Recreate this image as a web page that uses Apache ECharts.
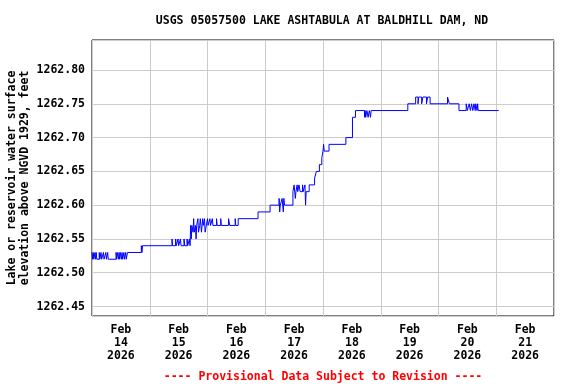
<!DOCTYPE html>
<html>
<head>
<meta charset="utf-8">
<script src="https://cdn.jsdelivr.net/npm/echarts@6/dist/echarts.min.js"></script>
<style>
  html, body { margin: 0; padding: 0; background: #fff; }
  #chart { width: 576px; height: 384px; }
</style>
</head>
<body>
<div id="chart"></div>
<script>
var titleText = 'USGS 05057500 LAKE ASHTABULA AT BALDHILL DAM, ND';
var yName = 'Lake or reservoir water surface\nelevation above NGVD 1929, feet';
var footText = '---- Provisional Data Subject to Revision ----';

// one label per day, centred on the day
var dayMonth = 'Feb';
var dayNumbers = ['14', '15', '16', '17', '18', '19', '20', '21'];
var dayYear = '2026';

// hours after Feb 14 00:00, and the gage height from that time on
var readings = [
    [0, 1262.53], [0.25, 1262.52], [0.5, 1262.53], [0.75, 1262.52], [1.25, 1262.53], [1.5, 1262.52],
    [1.75, 1262.53], [2.0, 1262.52], [3.0, 1262.53], [3.25, 1262.52], [3.75, 1262.53], [4.0, 1262.52],
    [4.75, 1262.53], [5.0, 1262.52], [5.75, 1262.53], [6.0, 1262.52], [6.5, 1262.53], [6.75, 1262.52],
    [10.0, 1262.53], [10.25, 1262.52], [10.5, 1262.53], [11.0, 1262.52], [11.25, 1262.53], [11.5, 1262.52],
    [11.75, 1262.53], [12.25, 1262.52], [12.5, 1262.53], [12.75, 1262.52], [13.25, 1262.53], [13.5, 1262.52],
    [14.0, 1262.53], [14.25, 1262.52], [14.75, 1262.53], [20.5, 1262.54], [20.75, 1262.53], [21.0, 1262.54],
    // Feb 15
    [33.25, 1262.55], [33.5, 1262.54], [34.75, 1262.55], [35.0, 1262.54], [35.75, 1262.55], [36.0, 1262.54],
    [36.75, 1262.55], [37.0, 1262.54], [38.25, 1262.55], [38.5, 1262.54], [39.5, 1262.55], [39.75, 1262.54],
    [40.5, 1262.55], [40.75, 1262.54], [41.0, 1262.57], [41.25, 1262.55], [41.5, 1262.57], [42.0, 1262.56],
    [42.25, 1262.58], [42.5, 1262.56], [43.0, 1262.57], [43.25, 1262.55], [43.5, 1262.57], [44.0, 1262.58],
    [44.25, 1262.56], [44.75, 1262.57], [45.0, 1262.58], [45.25, 1262.57], [45.5, 1262.56], [46.0, 1262.58],
    [46.25, 1262.57], [46.75, 1262.58], [47.0, 1262.56], [47.5, 1262.57],
    // Feb 16
    [48.0, 1262.58], [48.25, 1262.57], [49.0, 1262.58], [49.25, 1262.57], [50.0, 1262.58], [50.25, 1262.57],
    [51.75, 1262.58], [52.0, 1262.57], [53.5, 1262.58], [53.75, 1262.57], [56.75, 1262.58], [57.25, 1262.57],
    [59.5, 1262.58], [59.75, 1262.57], [60.75, 1262.58], [69.0, 1262.59],
    // Feb 17
    [74.0, 1262.60], [77.75, 1262.61], [78.0, 1262.59], [78.25, 1262.60], [79.0, 1262.61], [79.5, 1262.59],
    [79.75, 1262.61], [80.0, 1262.60], [83.5, 1262.62], [84.0, 1262.63], [84.5, 1262.61], [84.75, 1262.62],
    [85.25, 1262.63], [85.5, 1262.62], [86.0, 1262.63], [86.5, 1262.62], [87.5, 1262.63], [87.75, 1262.62],
    [88.5, 1262.63], [88.75, 1262.60], [89.0, 1262.62], [90.25, 1262.63], [92.5, 1262.64], [93.25, 1262.65],
    [94.5, 1262.66], [95.5, 1262.67],
    // Feb 18
    [96.0, 1262.68], [96.25, 1262.69], [96.5, 1262.68], [98.5, 1262.69], [105.5, 1262.70], [108.25, 1262.73],
    [109.5, 1262.74], [113.25, 1262.73], [113.5, 1262.74], [113.75, 1262.73], [114.25, 1262.74], [114.75, 1262.73],
    [115.25, 1262.74], [115.75, 1262.73], [116.0, 1262.74],
    // Feb 19
    [131.25, 1262.75], [134.5, 1262.76], [135.5, 1262.75], [135.75, 1262.76], [137.0, 1262.75], [137.5, 1262.76],
    [139.0, 1262.75], [139.5, 1262.76], [140.5, 1262.75],
    // Feb 20
    [147.75, 1262.76], [148.5, 1262.75], [152.5, 1262.74], [155.5, 1262.75], [156.0, 1262.74], [156.75, 1262.75],
    [157.25, 1262.74], [157.75, 1262.75], [158.25, 1262.74], [158.75, 1262.75], [159.25, 1262.74], [159.5, 1262.75],
    [160.0, 1262.74], [160.25, 1262.75], [160.5, 1262.74], [169.0, 1262.74]
];

var font = 'DejaVu Sans Mono';
var dayLabels = dayNumbers.map(function (d) { return dayMonth + '\n' + d + '\n' + dayYear; });

var chart = echarts.init(document.getElementById('chart'), null, { renderer: 'canvas' });

var option = {
    animation: false,
    backgroundColor: '#fff',
    title: [
        {
            text: titleText,
            left: 317, top: 10, textAlign: 'center',
            textStyle: { fontFamily: font, fontSize: 11.5, fontWeight: 'bold', color: '#000' }
        },
        {
            text: footText,
            left: 318, top: 366, textAlign: 'center',
            textStyle: { fontFamily: font, fontSize: 11.5, fontWeight: 'bold', color: '#ff0000' }
        }
    ],
    grid: {
        left: 92, right: 22, top: 40, bottom: 68,
        outerBoundsMode: 'none',
        containLabel: false,
        show: true, borderColor: '#000', borderWidth: 1, backgroundColor: 'transparent'
    },
    xAxis: [
        {
            type: 'value',
            position: 'top',
            min: 0, max: 192, interval: 24,
            axisLine: { show: false },
            axisTick: { show: false },
            axisLabel: { show: false },
            splitLine: { show: true, lineStyle: { color: '#cccccc', width: 1 } }
        },
        {
            type: 'category',
            position: 'bottom',
            data: dayLabels,
            boundaryGap: true,
            axisLine: { show: false },
            axisTick: { show: false },
            splitLine: { show: false },
            axisLabel: {
                margin: 8, interval: 0,
                fontFamily: font, fontSize: 11.5, fontWeight: 'bold', color: '#000', lineHeight: 13
            }
        }
    ],
    yAxis: {
        type: 'value',
        min: 1262.436, max: 1262.8444,
        splitNumber: 8, minInterval: 0.05, maxInterval: 0.05,
        name: yName,
        nameLocation: 'middle',
        nameRotate: 90,
        nameGap: 60,
        nameMoveOverlap: false,
        nameTextStyle: { fontFamily: font, fontSize: 11.5, fontWeight: 'bold', color: '#000', lineHeight: 13 },
        axisLine: { show: false },
        axisTick: { show: false },
        axisLabel: {
            margin: 7, showMinLabel: false, showMaxLabel: false,
            fontFamily: font, fontSize: 11.5, fontWeight: 'bold', color: '#000',
            formatter: function (v) { return v.toFixed(2); }
        },
        splitLine: { show: true, lineStyle: { color: '#cccccc', width: 1 } }
    },
    series: [
        {
            type: 'line',
            xAxisIndex: 0,
            step: 'end',
            symbol: 'none',
            lineStyle: { color: '#0000ff', width: 1 },
            data: readings
        }
    ]
};

chart.setOption(option);
</script>
</body>
</html>
